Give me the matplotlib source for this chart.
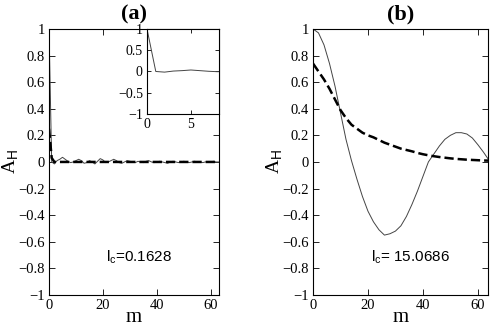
import matplotlib
matplotlib.use("Agg")
from matplotlib import pyplot as plt
from matplotlib.ticker import FuncFormatter

plt.rcParams['font.family'] = ['Liberation Serif', 'DejaVu Serif']
plt.rcParams['mathtext.fontset'] = 'custom'
plt.rcParams['mathtext.rm'] = 'Liberation Sans'
plt.rcParams['mathtext.it'] = 'Liberation Sans'

# panel (a): solid line, m = 0..63
m_a = list(range(0, 64))
a_solid = [1.0, 0.0, -0.015, 0.01, 0.02, 0.035, 0.02, 0.005, -0.005, 0.0,
           0.01, 0.02, 0.01, -0.01, -0.005, 0.01, 0.0, -0.015, 0.005, 0.025,
           0.015, -0.005, 0.0, 0.01, 0.02, 0.01, -0.005, -0.01, 0.0, 0.01,
           0.005, 0.0, -0.005, 0.005, 0.0, -0.005, 0.005, 0.01, 0.0, -0.005,
           0.0, 0.005, 0.0, -0.005, -0.01, 0.0, 0.005, 0.0, -0.005, 0.0,
           0.005, 0.0, -0.005, 0.0, 0.005, 0.0, 0.0, -0.005, 0.0, 0.0,
           0.0, 0.005, 0.0, 0.0]
m_a_dash = [0, 1, 2, 4, 63]
a_dash = [0.25, 0.03, 0.0, 0.0, 0.0]

# panel (b)
m_b = list(range(0, 66, 2))
b_solid = [1.0, 0.97, 0.88, 0.74, 0.57, 0.37, 0.17, 0.01, -0.13, -0.26,
           -0.37, -0.45, -0.51, -0.55, -0.54, -0.52, -0.48, -0.41, -0.32, -0.22,
           -0.11, 0.0, 0.06, 0.12, 0.17, 0.20, 0.22, 0.22, 0.21, 0.18,
           0.13, 0.075, 0.015]
b_dash = [0.74, 0.68, 0.62, 0.55, 0.47, 0.39, 0.33, 0.28, 0.25, 0.22,
          0.20, 0.185, 0.165, 0.145, 0.13, 0.115, 0.10, 0.09, 0.08, 0.068,
          0.058, 0.05, 0.043, 0.037, 0.032, 0.027, 0.023, 0.02, 0.017, 0.015,
          0.013, 0.011, 0.01]

labels = ["(a)", "(b)"]
lc_text = ["l$_{\\mathrm{c}}$=0.1628", "l$_{\\mathrm{c}}$= 15.0686"]


def fmt(v, pos):
    s = "%g" % round(v, 6)
    return s.replace("-", "\u2212")


def style(ax, fs=10.5):
    ax.tick_params(direction='in', top=True, right=True, length=4,
                   width=0.6, labelsize=fs, pad=3)
    ax.xaxis.set_major_formatter(FuncFormatter(fmt))
    ax.yaxis.set_major_formatter(FuncFormatter(fmt))
    for sp in ax.spines.values():
        sp.set_linewidth(0.8)


fig = plt.figure(figsize=(4.91, 3.27), dpi=100)
ax1 = fig.add_axes([0.0998, 0.098, 0.346, 0.8135])
ax2 = fig.add_axes([0.6375, 0.098, 0.3564, 0.8135])

ax1.plot(m_a, a_solid, color='#444444', linewidth=0.7)
ax1.plot(m_a_dash, a_dash, color='k', linestyle='--', linewidth=1.8)
ax1.set_xlim(0, 63)

ax2.plot(m_b, b_solid, color='#444444', linewidth=0.7)
ax2.plot(m_b, b_dash, color='k', linestyle='--', linewidth=1.8)
ax2.set_xlim(0, 63.7)

for i, ax in enumerate([ax1, ax2]):
    ax.set_ylim(-1, 1)
    ax.set_xticks([0, 20, 40, 60])
    ax.set_yticks([-1, -0.8, -0.6, -0.4, -0.2, 0, 0.2, 0.4, 0.6, 0.8, 1])
    style(ax)
    ax.set_title(labels[i], fontsize=16, fontweight='bold', pad=7)
    ax.set_xlabel("m", fontsize=15, labelpad=-3)
    ax.set_ylabel("A$_{\\mathrm{H}}$", fontsize=14, labelpad=-1)
    ax.text(21, -0.72, lc_text[i], fontsize=11, family='Liberation Sans',
            va='center')

# inset
ax3 = fig.add_axes([0.2994, 0.6514, 0.1466, 0.26])
ax3.plot(m_a[:10], a_solid[:10], color='#444444', linewidth=0.7)
ax3.set_xlim(0, 8.2)
ax3.set_ylim(-1, 1)
ax3.set_xticks([0, 5])
ax3.set_yticks([-1, -0.5, 0, 0.5, 1])
style(ax3, fs=10)
ax3.tick_params(length=3)

fig.savefig("out.png", dpi=100)
